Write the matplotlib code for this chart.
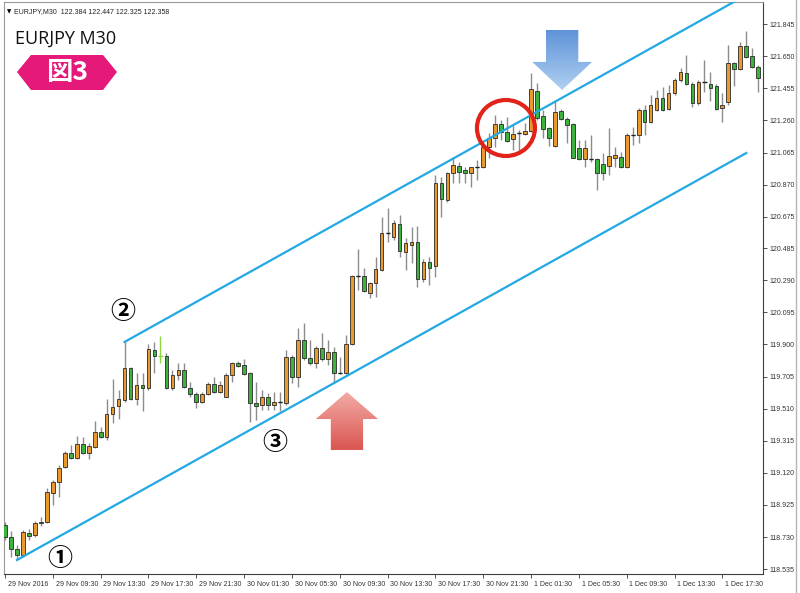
import numpy as np
import matplotlib
matplotlib.use("Agg")
import matplotlib.pyplot as plt
from matplotlib.patches import Polygon, Ellipse
from matplotlib.lines import Line2D
from matplotlib.colors import LinearSegmentedColormap
import matplotlib.transforms as mtransforms

# EURJPY M30 candles
open_ = [118.804, 118.731, 118.658, 118.622, 118.755, 118.743, 118.816, 118.822, 118.998, 119.065,
         119.156, 119.241, 119.210, 119.295, 119.241, 119.277, 119.368, 119.338, 119.478, 119.526,
         119.563, 119.757, 119.569, 119.654, 119.635, 119.866, 119.830, 119.830, 119.635, 119.714,
         119.745, 119.635, 119.599, 119.550, 119.599, 119.660, 119.611, 119.581, 119.714, 119.787,
         119.775, 119.727, 119.544, 119.532, 119.581, 119.532, 119.550, 119.544, 119.824, 119.702,
         119.927, 119.818, 119.787, 119.878, 119.811, 119.854, 119.727, 119.727, 119.903, 120.315,
         120.315, 120.212, 120.273, 120.352, 120.576, 120.552, 120.631, 120.461, 120.504, 120.522,
         120.297, 120.400, 120.376, 120.880, 120.777, 120.941, 120.983, 120.959, 120.941, 120.977,
         120.977, 121.099, 121.153, 121.238, 121.190, 121.147, 121.184, 121.177, 121.196, 121.439,
         121.287, 121.214, 121.105, 121.317, 121.269, 121.238, 121.092, 121.026, 121.026, 121.026,
         120.995, 120.983, 121.032, 121.038, 120.977, 121.171, 121.171, 121.323, 121.250, 121.323,
         121.396, 121.329, 121.426, 121.505, 121.548, 121.481, 121.366, 121.493, 121.481, 121.469,
         121.335, 121.372, 121.609, 121.572, 121.712, 121.651, 121.584]
high = [118.822, 118.767, 118.682, 118.773, 118.779, 118.828, 118.852, 119.028, 119.077, 119.168,
        119.253, 119.289, 119.344, 119.338, 119.302, 119.435, 119.399, 119.569, 119.690, 119.623,
        119.915, 119.763, 119.727, 119.727, 119.903, 119.915, 119.951, 119.848, 119.745, 119.787,
        119.787, 119.672, 119.611, 119.611, 119.672, 119.702, 119.678, 119.727, 119.793, 119.799,
        119.811, 119.733, 119.672, 119.623, 119.605, 119.611, 119.611, 119.866, 119.836, 120.000,
        120.030, 119.927, 119.890, 119.969, 119.927, 119.884, 119.824, 119.957, 120.321, 120.479,
        120.364, 120.279, 120.431, 120.674, 120.728, 120.655, 120.686, 120.546, 120.613, 120.619,
        120.419, 120.431, 120.929, 120.916, 120.947, 121.038, 121.007, 120.977, 120.977, 121.020,
        121.111, 121.184, 121.293, 121.262, 121.281, 121.232, 121.202, 121.244, 121.548, 121.487,
        121.323, 121.220, 121.384, 121.329, 121.281, 121.244, 121.141, 121.141, 121.171, 121.032,
        121.062, 121.214, 121.099, 121.068, 121.184, 121.220, 121.335, 121.354, 121.414, 121.445,
        121.463, 121.475, 121.517, 121.578, 121.657, 121.493, 121.505, 121.627, 121.554, 121.481,
        121.426, 121.718, 121.615, 121.736, 121.803, 121.700, 121.596]
low = [118.713, 118.610, 118.591, 118.610, 118.713, 118.731, 118.798, 118.816, 118.925, 118.974,
       119.150, 119.204, 119.204, 119.235, 119.204, 119.271, 119.332, 119.320, 119.423, 119.447,
       119.550, 119.563, 119.532, 119.496, 119.623, 119.727, 119.787, 119.629, 119.623, 119.684,
       119.635, 119.581, 119.514, 119.544, 119.593, 119.605, 119.605, 119.581, 119.672, 119.763,
       119.714, 119.429, 119.441, 119.502, 119.502, 119.502, 119.496, 119.532, 119.666, 119.642,
       119.805, 119.775, 119.757, 119.799, 119.775, 119.666, 119.720, 119.720, 119.897, 120.230,
       120.218, 120.182, 120.188, 120.346, 120.522, 120.534, 120.431, 120.352, 120.394, 120.249,
       120.279, 120.261, 120.309, 120.674, 120.765, 120.880, 120.880, 120.880, 120.856, 120.898,
       120.971, 121.032, 121.099, 121.141, 121.129, 121.080, 121.068, 121.171, 121.190, 121.262,
       121.153, 121.105, 121.099, 121.262, 121.123, 121.032, 121.020, 120.977, 121.007, 120.838,
       120.898, 120.929, 120.977, 120.971, 120.971, 121.111, 121.123, 121.171, 121.244, 121.317,
       121.317, 121.323, 121.414, 121.493, 121.475, 121.341, 121.354, 121.432, 121.378, 121.323,
       121.250, 121.354, 121.469, 121.566, 121.639, 121.578, 121.432]
close = [118.731, 118.658, 118.622, 118.761, 118.737, 118.816, 118.822, 119.004, 119.065, 119.150,
         119.241, 119.210, 119.295, 119.241, 119.283, 119.368, 119.338, 119.478, 119.520, 119.569,
         119.757, 119.569, 119.654, 119.635, 119.872, 119.830, 119.830, 119.635, 119.714, 119.745,
         119.642, 119.599, 119.550, 119.599, 119.660, 119.611, 119.654, 119.714, 119.787, 119.769,
         119.720, 119.544, 119.526, 119.581, 119.532, 119.550, 119.550, 119.824, 119.702, 119.927,
         119.818, 119.787, 119.878, 119.811, 119.854, 119.727, 119.727, 119.903, 120.315, 120.315,
         120.224, 120.273, 120.358, 120.576, 120.576, 120.637, 120.467, 120.516, 120.522, 120.297,
         120.400, 120.364, 120.880, 120.783, 120.941, 120.989, 120.947, 120.941, 120.977, 120.977,
         121.099, 121.153, 121.238, 121.190, 121.135, 121.177, 121.184, 121.196, 121.451, 121.275,
         121.208, 121.153, 121.311, 121.269, 121.232, 121.032, 121.026, 121.092, 121.026, 120.941,
         120.941, 121.044, 121.050, 120.977, 121.171, 121.171, 121.323, 121.250, 121.354, 121.396,
         121.323, 121.426, 121.505, 121.554, 121.481, 121.366, 121.493, 121.493, 121.457, 121.329,
         121.354, 121.609, 121.572, 121.712, 121.645, 121.584, 121.517]

destaque = 26  # candle desenhado em verde claro

xtick_labels = ["29 Nov 2016", "29 Nov 09:30", "29 Nov 13:30", "29 Nov 17:30", "29 Nov 21:30",
                "30 Nov 01:30", "30 Nov 05:30", "30 Nov 09:30", "30 Nov 13:30", "30 Nov 17:30",
                "30 Nov 21:30", "1 Dec 01:30", "1 Dec 05:30", "1 Dec 09:30", "1 Dec 13:30",
                "1 Dec 17:30"]
ytick_labels = ["121.845", "121.650", "121.455", "121.260", "121.065", "120.870", "120.675",
                "120.485", "120.290", "120.095", "119.900", "119.705", "119.510", "119.315",
                "119.120", "118.925", "118.730", "118.535"]
header = "EURJPY,M30  122.384 122.447 122.325 122.358"

# canal (pontos do objeto)
canal_inf = [(2, 118.591), (124, 121.062)]
canal_sup_inicio = (20, 119.915)

COR_ALTA = "#E99A2C"
COR_BAIXA = "#3DB33D"
COR_CANAL = "#22A9E4"

fig = plt.figure(figsize=(8, 5.93), dpi=100)
ax = fig.add_axes([4 / 800, 1 - 574 / 593, 759 / 800, 572 / 593])
pix = mtransforms.Affine2D().scale(1 / 800, -1 / 593).translate(0, 1) + fig.transFigure

n = len(open_)
x = np.arange(n)
o = np.array(open_)
c = np.array(close)
h = np.array(high)
l = np.array(low)

wick_cores = ["#8c8c8c"] * n
wick_cores[destaque] = "#8CD93F"
ax.vlines(x, l, h, colors=wick_cores, linewidth=1.0, zorder=2)

cores = [COR_ALTA if cc > oo else COR_BAIXA for oo, cc in zip(o, c)]
corpo = np.abs(c - o)
ax.bar(x, corpo, bottom=np.minimum(o, c), width=0.62, color=cores,
       edgecolor="#2a2a2a", linewidth=0.6, zorder=3)
# dojis
for i in range(n):
    if o[i] == c[i]:
        cor = "#8CD93F" if i == destaque else "#222222"
        ax.hlines(o[i], i - 0.35, i + 0.35, color=cor, linewidth=1.0, zorder=4)

# canal paralelo
(x1, y1), (x2, y2) = canal_inf
incl = (y2 - y1) / (x2 - x1)
ax.plot([x1, x2], [y1, y2], color=COR_CANAL, linewidth=1.6, zorder=5)
xs, ys = canal_sup_inicio
ax.plot([xs, 130], [ys, ys + incl * (130 - xs)], color=COR_CANAL, linewidth=1.6, zorder=5)


def seta(tx, ty, meia_cabeca, alt_cabeca, meia_haste, alt_haste, sentido):
    # sentido = -1 aponta para baixo, 1 para cima
    s = -sentido
    b = ty + s * alt_cabeca
    f = b + s * alt_haste
    return [(tx, ty), (tx + meia_cabeca, b), (tx + meia_haste, b), (tx + meia_haste, f),
            (tx - meia_haste, f), (tx - meia_haste, b), (tx - meia_cabeca, b)]


def seta_gradiente(verts, cor_baixo, cor_cima):
    poly = Polygon(verts, closed=True, facecolor="none", edgecolor="none", zorder=6)
    ax.add_patch(poly)
    xsv = [v[0] for v in verts]
    ysv = [v[1] for v in verts]
    grad = np.linspace(0, 1, 256).reshape(-1, 1)
    cmap = LinearSegmentedColormap.from_list("g", [cor_baixo, cor_cima])
    im = ax.imshow(grad, extent=[min(xsv), max(xsv), min(ysv), max(ysv)], origin="lower",
                   aspect="auto", cmap=cmap, zorder=6, interpolation="bilinear")
    im.set_clip_path(poly)


seta_gradiente(seta(93.2, 121.445, 5.0, 0.170, 2.7, 0.194, -1), "#AFD0F2", "#5F93D8")
seta_gradiente(seta(57.2, 119.611, 5.2, 0.164, 2.7, 0.188, 1), "#DA5550", "#F3ABA6")

ax.add_patch(Ellipse((83.8, 121.214), 9.7, 0.34, fill=False, edgecolor="#E2231A",
                     linewidth=3, zorder=7))

fonte_num = ["Noto Sans CJK JP", "DejaVu Sans"]
for tx, ty, s in [(9.2, 118.597, "①"), (19.7, 120.097, "②"), (45.2, 119.302, "③")]:
    ax.text(tx, ty, s, fontsize=18, family=fonte_num, weight="bold",
            ha="center", va="center", zorder=7)

ax.set_xlim(-0.17, 126.8)
ax.set_ylim(118.506, 121.979)

# eixos estilo MT4
ax.yaxis.tick_right()
ax.set_yticks([float(s) for s in ytick_labels])
ax.set_yticklabels(ytick_labels, fontsize=5, family="Liberation Sans", color="#333333")
ax.tick_params(axis="y", length=3, width=0.6, pad=1.5, colors="#333333")
ax.set_xticks(np.arange(0, 8 * len(xtick_labels), 8))
ax.set_xticklabels(xtick_labels, fontsize=5, family="Liberation Sans", color="#333333")
ax.tick_params(axis="x", length=3, width=0.6, pad=2, colors="#333333")
desloc = mtransforms.ScaledTranslation(2 / 72, 0, fig.dpi_scale_trans)
for lbl in ax.get_xticklabels():
    lbl.set_horizontalalignment("left")
    lbl.set_transform(lbl.get_transform() + desloc)
for lado in ["left", "top"]:
    ax.spines[lado].set_color("#9a9a9a")
    ax.spines[lado].set_linewidth(0.8)
for lado in ["right", "bottom"]:
    ax.spines[lado].set_color("#404040")
    ax.spines[lado].set_linewidth(0.8)
fig.add_artist(Line2D([796 / 800, 796 / 800], [0, 1], color="#b5b5b5", linewidth=1))

# textos do topo
fig.text(7, 12, "▼", transform=pix, fontsize=4, family=["DejaVu Sans"], va="center")
fig.text(14, 12, header, transform=pix, fontsize=5, family="Liberation Sans", va="center",
         color="#222222")
fig.text(15, 39, "EURJPY M30", transform=pix, fontsize=13, family="Open Sans", va="center",
         color="#111111")

badge = Polygon([(17, 72), (31, 55), (103, 55), (117, 72), (103, 90), (31, 90)],
                closed=True, transform=pix, facecolor="#E5197A", edgecolor="none")
fig.add_artist(badge)
fig.text(67, 73, "図3", transform=pix, fontsize=19, family=["Noto Sans CJK JP"],
         weight="bold", color="white", ha="center", va="center")

fig.savefig("out.png", dpi=100)
